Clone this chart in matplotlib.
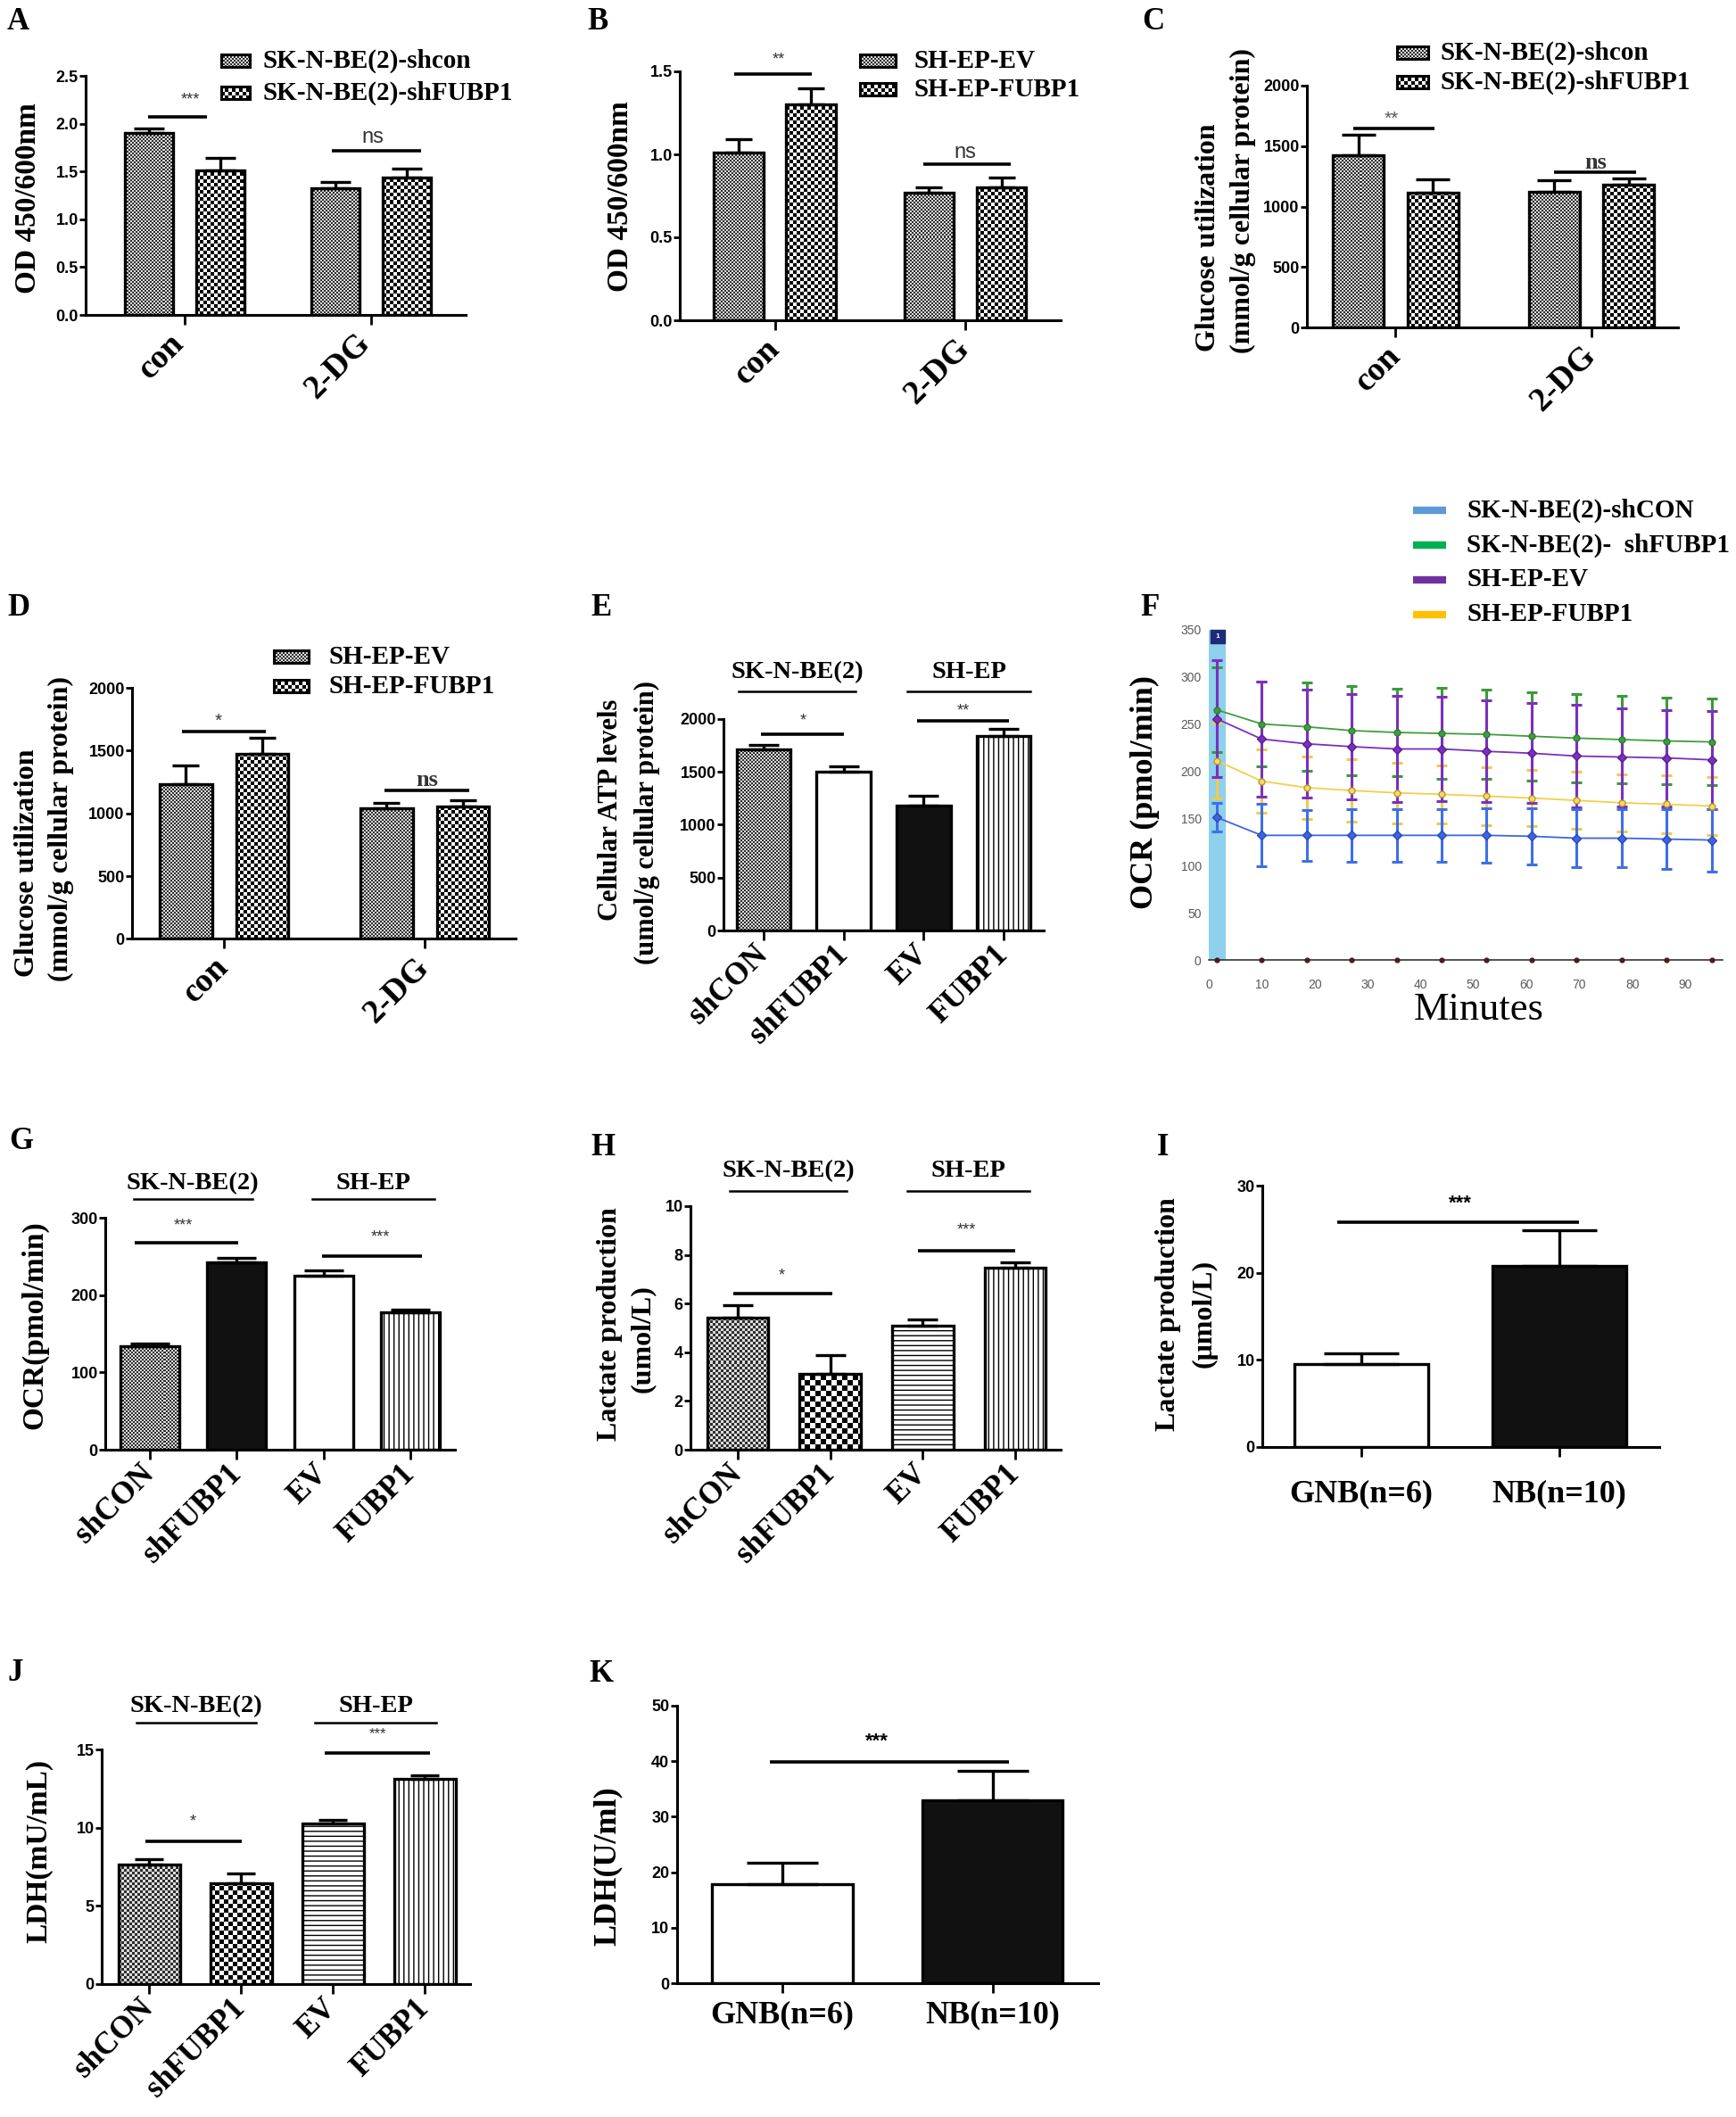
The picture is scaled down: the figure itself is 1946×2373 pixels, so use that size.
import numpy as np
import matplotlib
matplotlib.use('Agg')
import matplotlib.pyplot as plt
from matplotlib.colors import ListedColormap
from matplotlib.patches import Rectangle
from matplotlib.lines import Line2D
from matplotlib.transforms import ScaledTranslation

W, H = 1946, 2373
SERIF = 'Liberation Serif'
SANS = 'Liberation Sans'
plt.rcParams['hatch.linewidth'] = 1.0

# ---------------- data ----------------
groups = ['con', '2-DG']
a_shcon = [1.90, 1.32]
a_shcon_err = [0.05, 0.07]
a_shfubp1 = [1.51, 1.44]
a_shfubp1_err = [0.13, 0.09]

b_ev = [1.01, 0.77]
b_ev_err = [0.08, 0.03]
b_fubp1 = [1.30, 0.80]
b_fubp1_err = [0.10, 0.06]

c_shcon = [1423, 1121]
c_shcon_err = [170, 100]
c_shfubp1 = [1114, 1178]
c_shfubp1_err = [111, 51]

d_ev = [1236, 1041]
d_ev_err = [147, 45]
d_fubp1 = [1477, 1058]
d_fubp1_err = [122, 46]

cells = ['shCON', 'shFUBP1', 'EV', 'FUBP1']
e_atp = [1713, 1502, 1185, 1840]
e_atp_err = [46, 51, 91, 63]

f_time = [1.5, 10, 18.5, 27, 35.5, 44, 52.5, 61, 69.5, 78, 86.5, 95]
f_shcon = [151, 132, 132, 132, 132, 132, 132, 131, 129, 129, 128, 127]
f_shcon_err = [15, 33, 27, 28, 28, 28, 29, 30, 31, 31, 32, 33]
f_shfubp1 = [265, 250, 247, 243, 241, 240, 239, 237, 235, 233.5, 232, 231]
f_shfubp1_err = [45, 45, 47, 47, 46, 48, 47, 47, 47, 46, 46, 46]
f_ev = [255.5, 234, 229, 226, 223.5, 223.5, 221, 219, 216, 215, 214, 212]
f_ev_err = [62, 61, 57, 56, 56, 55, 54, 53, 54, 52, 51, 52]
f_fubp1 = [211, 189.5, 182.5, 179.5, 177, 175.5, 173.5, 171.5, 169, 166.5, 165, 163]
f_fubp1_err = [40, 34, 33, 33, 32, 31, 31, 30, 30, 30, 31, 31]
f_names = ['SK-N-BE(2)-shCON', 'SK-N-BE(2)-  shFUBP1', 'SH-EP-EV', 'SH-EP-FUBP1']

g_ocr = [133.5, 242, 225, 177.5]
g_ocr_err = [4, 6, 7, 4]

h_lac = [5.43, 3.11, 5.09, 7.48]
h_lac_err = [0.51, 0.77, 0.24, 0.23]

tumours = ['GNB(n=6)', 'NB(n=10)']
i_lac = [9.5, 20.8]
i_lac_err = [1.27, 4.07]

j_ldh = [7.67, 6.44, 10.28, 13.09]
j_ldh_err = [0.33, 0.64, 0.24, 0.28]

k_ldh = [17.85, 33.0]
k_ldh_err = [3.9, 5.3]

# ---------------- helpers ----------------
fig = plt.figure(figsize=(W / 100, H / 100), dpi=100)


def add_ax(x0, y0, x1, y1):
    # box in picture pixels, y measured from the top
    return fig.add_axes([x0 / W, 1 - y1 / H, (x1 - x0) / W, (y1 - y0) / H])


def setup(ax, xlim, ylim, yticks, fmt, tick_pos, tick_labels, rot=True, xfs=25,
          xpad=8, dx=0):
    ax.set_xlim(*xlim)
    ax.set_ylim(*ylim)
    for s in ['top', 'right']:
        ax.spines[s].set_visible(False)
    for s in ['left', 'bottom']:
        ax.spines[s].set_linewidth(2.2)
    ax.set_yticks(yticks)
    ax.set_yticklabels([fmt.format(t) for t in yticks], fontfamily=SANS,
                       fontweight='bold', fontsize=13)
    ax.tick_params(axis='y', direction='out', width=2, length=5, pad=1)
    ax.tick_params(axis='x', direction='out', width=2, length=8, pad=xpad)
    ax.set_xticks(tick_pos)
    if rot:
        labs = ax.set_xticklabels(tick_labels, rotation=45, ha='right', va='center',
                                  rotation_mode='anchor', fontfamily=SERIF,
                                  fontweight='bold', fontsize=xfs)
        if dx:
            for lab in labs:
                lab.set_transform(lab.get_transform() +
                                  ScaledTranslation(dx / 100, 0, fig.dpi_scale_trans))
    else:
        ax.set_xticklabels(tick_labels, fontfamily=SERIF, fontweight='bold',
                           fontsize=xfs)


def checker(ax, patch, cell, c1, c2):
    x0, y0 = patch.get_x(), patch.get_y()
    w, h = patch.get_width(), patch.get_height()
    p0 = ax.transData.transform((x0, y0))
    p1 = ax.transData.transform((x0 + w, y0 + h))
    pw, ph = abs(p1[0] - p0[0]), abs(p1[1] - p0[1])
    nx = int(np.ceil(pw / cell)) + 1
    ny = int(np.ceil(ph / cell)) + 1
    img = np.add.outer(np.arange(ny), np.arange(nx)) % 2
    ex = x0 + w * nx * cell / pw
    ey = y0 + h * ny * cell / ph
    im = ax.imshow(img, extent=(x0, ex, y0, ey), origin='lower',
                   cmap=ListedColormap([c1, c2]), interpolation='nearest',
                   aspect='auto', zorder=2.2)
    im.set_clip_path(patch)


FINE = ('#2e2e2e', '#dcdcdc')
COARSE = ('#ffffff', '#000000')


def bars(ax, x, vals, errs, width, style, capsize):
    # style: ('fine', cell) ('coarse', cell) ('white',) ('black',) ('vline',) ('hline',)
    for xi, v, e, st in zip(x, vals, errs, style):
        kind = st[0]
        if kind in ('fine', 'coarse'):
            b = ax.bar(xi, v, width, facecolor='white', linewidth=0, zorder=2)[0]
            cols = FINE if kind == 'fine' else COARSE
            checker(ax, b, st[1], *cols)
        elif kind == 'vline':
            ax.bar(xi, v, width, facecolor='white', edgecolor='black', linewidth=0,
                   hatch='|||', zorder=2)
        elif kind == 'hline':
            ax.bar(xi, v, width, facecolor='white', edgecolor='black', linewidth=0,
                   hatch='---', zorder=2)
        else:
            fc = 'white' if kind == 'white' else '#111111'
            ax.bar(xi, v, width, facecolor=fc, linewidth=0, zorder=2)
        ax.bar(xi, v, width, facecolor='none', edgecolor='black', linewidth=2.4, zorder=3)
        ax.errorbar(xi, v, yerr=[[0], [e]], fmt='none', ecolor='black',
                    elinewidth=2.4, capsize=capsize, capthick=2.4, zorder=4)


def sig(ax, x0, x1, y, text, ty, tx, fs=13, family=SANS, weight='normal', color='#333333'):
    ax.plot([x0, x1], [y, y], color='black', lw=2.6, solid_capstyle='butt',
            clip_on=False, zorder=5)
    ax.text(tx, ty, text, ha='center', va='center', fontsize=fs, family=family,
            fontweight=weight, color=color, clip_on=False)


def group_label(ax, x0, x1, y, text, ty):
    ax.plot([x0, x1], [y, y], color='black', lw=1.8, clip_on=False, zorder=5)
    ax.text((x0 + x1) / 2, ty, text, ha='center', va='center', fontsize=20.5,
            family=SERIF, fontweight='bold', clip_on=False)


def ylabel(x, y, text, fs=23):
    fig.text(x / W, 1 - y / H, text, rotation=90, ha='center', va='center',
             fontsize=fs, family=SERIF, fontweight='bold')


def panel_letter(x, y, letter):
    fig.text(x / W, 1 - y / H, letter, ha='left', va='baseline', fontsize=25,
             family=SERIF, fontweight='bold')


def legend_patch(x0, x1, yc, kind, cell, text, tx, fs=21):
    lax = add_ax(x0, yc - 7, x1, yc + 7)
    lax.set_xlim(0, 1)
    lax.set_ylim(0, 1)
    lax.set_xticks([])
    lax.set_yticks([])
    r = Rectangle((0, 0), 1, 1, facecolor='white', linewidth=0)
    lax.add_patch(r)
    checker(lax, r, cell, *(FINE if kind == 'fine' else COARSE))
    for s in lax.spines.values():
        s.set_linewidth(2.2)
    fig.text(tx / W, 1 - yc / H, text, ha='left', va='center', fontsize=fs,
             family=SERIF, fontweight='bold')


# ---------------- A ----------------
xg = np.arange(len(groups))
off, bw = 0.19, 0.26
ax = add_ax(96, 85, 522, 353)
setup(ax, (-0.531, 1.507), (0, 2.5), [0, 0.5, 1.0, 1.5, 2.0, 2.5], '{:.1f}',
      xg, groups, xfs=27, xpad=11, dx=-6)
bars(ax, xg - off, a_shcon, a_shcon_err, bw, [('fine', 2)] * 2, 12)
bars(ax, xg + off, a_shfubp1, a_shfubp1_err, bw, [('coarse', 4)] * 2, 12)
sig(ax, -0.196, 0.12, 2.07, '***', 2.25, 0.03)
sig(ax, 0.79, 1.27, 1.72, 'ns', 1.86, 1.01, fs=17)
legend_patch(248, 280, 68, 'fine', 2, 'SK-N-BE(2)-shcon', 295)
legend_patch(248, 280, 104, 'coarse', 4, 'SK-N-BE(2)-shFUBP1', 295)
ylabel(32, 222, 'OD 450/600nm', fs=24)
panel_letter(8, 33, 'A')

# ---------------- B ----------------
ax = add_ax(762, 80, 1189, 359)
setup(ax, (-0.499, 1.501), (0, 1.5), [0, 0.5, 1.0, 1.5], '{:.1f}', xg, groups,
      xfs=27, xpad=11)
bars(ax, xg - off, b_ev, b_ev_err, bw, [('fine', 2)] * 2, 11)
bars(ax, xg + off, b_fubp1, b_fubp1_err, bw, [('coarse', 4)] * 2, 11)
sig(ax, -0.213, 0.194, 1.486, '**', 1.57, 0.02)
sig(ax, 0.78, 1.24, 0.939, 'ns', 1.01, 1.0, fs=17)
legend_patch(964, 1004, 68, 'fine', 2, 'SH-EP-EV', 1025)
legend_patch(964, 1004, 100, 'coarse', 4, 'SH-EP-FUBP1', 1025)
ylabel(695, 220, 'OD 450/600nm', fs=24)
panel_letter(658, 33, 'B')

# ---------------- C ----------------
ax = add_ax(1465, 96, 1881, 367)
setup(ax, (-0.453, 1.442), (0, 2000), [0, 500, 1000, 1500, 2000], '{:d}', xg, groups,
      xfs=27, xpad=11)
bars(ax, xg - off, c_shcon, c_shcon_err, bw, [('fine', 2)] * 2, 14)
bars(ax, xg + off, c_shfubp1, c_shfubp1_err, bw, [('coarse', 4)] * 2, 14)
sig(ax, -0.215, 0.198, 1644, '**', 1727, -0.02, fs=15, color='#555555')
sig(ax, 0.81, 1.23, 1286, 'ns', 1365, 1.02, fs=19, family=SERIF, weight='bold')
legend_patch(1566, 1601, 59, 'fine', 2, 'SK-N-BE(2)-shcon', 1615)
legend_patch(1566, 1601, 92, 'coarse', 4, 'SK-N-BE(2)-shFUBP1', 1615)
ylabel(1354, 266, 'Glucose utilization')
ylabel(1393, 225, '(mmol/g cellular protein)')
panel_letter(1280, 33, 'C')

# ---------------- D ----------------
ax = add_ax(148, 771, 578, 1052.5)
setup(ax, (-0.458, 1.453), (0, 2000), [0, 500, 1000, 1500, 2000], '{:d}', xg, groups,
      xfs=27, xpad=11)
bars(ax, xg - off, d_ev, d_ev_err, bw, [('fine', 2)] * 2, 10.5)
bars(ax, xg + off, d_fubp1, d_fubp1_err, bw, [('coarse', 4)] * 2, 10.5)
sig(ax, -0.21, 0.21, 1650, '*', 1737, -0.03, fs=15)
sig(ax, 0.8, 1.22, 1185, 'ns', 1262, 1.01, fs=19, family=SERIF, weight='bold')
legend_patch(307, 346, 736, 'fine', 2, 'SH-EP-EV', 369)
legend_patch(307, 346, 769, 'coarse', 4, 'SH-EP-FUBP1', 369)
ylabel(31, 967, 'Glucose utilization')
ylabel(68, 929, '(mmol/g cellular protein)')
panel_letter(8, 690, 'D')

# ---------------- E ----------------
xc = np.arange(len(cells))
ax = add_ax(811, 806, 1170, 1043)
setup(ax, (-0.5, 3.5), (0, 2000), [0, 500, 1000, 1500, 2000], '{:d}', xc, cells)
bars(ax, xc, e_atp, e_atp_err, 0.675,
     [('fine', 2), ('white',), ('black',), ('vline',)], 12.5)
sig(ax, -0.03, 1.0, 1857, '*', 1983, 0.49, fs=13)
sig(ax, 1.92, 3.06, 1983, '**', 2076, 2.49, fs=13)
group_label(ax, -0.31, 1.15, 2262, 'SK-N-BE(2)', 2439)
group_label(ax, 1.80, 3.33, 2262, 'SH-EP', 2439)
ylabel(685, 908, 'Cellular ATP levels', fs=22)
ylabel(725, 922, '(umol/g cellular protein)', fs=22)
panel_letter(662, 690, 'E')

# ---------------- F ----------------
ax = add_ax(1355, 703.6, 1930.5, 1076)
ax.set_xlim(0, 97)
ax.set_ylim(0, 352)
for s in ['top', 'right', 'left']:
    ax.spines[s].set_visible(False)
ax.spines['bottom'].set_color('#333333')
ax.spines['bottom'].set_linewidth(1.2)
ax.set_yticks(np.arange(0, 351, 50))
ax.set_xticks(np.arange(0, 91, 10))
ax.tick_params(length=0, labelsize=10, labelcolor='#595959', pad=6)
ax.tick_params(axis='x', pad=15)
for lab in ax.get_xticklabels() + ax.get_yticklabels():
    lab.set_family(SANS)
ax.axvspan(0, 3.2, ymax=350 / 352, color='#8fd0ec', zorder=0, lw=0)
ax.add_patch(Rectangle((0.3, 336), 2.7, 14, color='#1c2a78', zorder=1))
ax.text(1.65, 343, '1', color='white', fontsize=6, fontweight='bold',
        ha='center', va='center', family=SANS)
series = [
    (f_shfubp1, f_shfubp1_err, '#3f9d3f', '#3a9a3a', 'o', '#3f9d3f', '#2f7f2f'),
    (f_fubp1, f_fubp1_err, '#f3cf4a', '#f2c94c', 'o', '#f6d96a', '#b99a20'),
    (f_ev, f_ev_err, '#7a2fc0', '#7b2fbe', 'D', '#7a2fc0', '#5a1f90'),
    (f_shcon, f_shcon_err, '#3e64e4', '#3f6fe6', 'D', '#3e64e4', '#2a4ab0'),
]
for vals, err, lc, ec, mk, mfc, mec in series:
    ax.errorbar(f_time, vals, yerr=err, color=lc, ecolor=ec, lw=1.3, marker=mk,
                ms=5, mfc=mfc, mec=mec, elinewidth=2.2, capsize=4.5, capthick=2.2,
                zorder=3)
ax.plot(f_time, np.zeros(len(f_time)), 'o', ms=3.5, color='#4a1c1c', clip_on=False,
        zorder=4)
legend_cols = ['#5b9bd5', '#00b050', '#7030a0', '#ffc000']
for name, col, yc in zip(f_names, legend_cols, [572, 611, 650, 689]):
    fig.add_artist(Line2D([1584 / W, 1621 / W], [1 - yc / H, 1 - yc / H], lw=6,
                          color=col, solid_capstyle='butt'))
    fig.text(1644 / W, 1 - yc / H, name, ha='left', va='center', fontsize=21,
             family=SERIF, fontweight='bold')
fig.text(1658 / W, 1 - 1132 / H, 'Minutes', ha='center', va='center',
         fontsize=32, family=SERIF)
ylabel(1283, 888, 'OCR (pmol/min)', fs=26)
panel_letter(1278, 690, 'F')

# ---------------- G ----------------
ax = add_ax(118, 1365, 510, 1625)
setup(ax, (-0.51, 3.51), (0, 300), [0, 100, 200, 300], '{:d}', xc, cells)
bars(ax, xc, g_ocr, g_ocr_err, 0.68,
     [('fine', 2), ('black',), ('white',), ('vline',)], 16)
sig(ax, -0.17, 1.02, 268, '***', 290, 0.39, fs=13)
sig(ax, 1.98, 3.13, 250, '***', 275, 2.65, fs=13)
group_label(ax, -0.185, 1.18, 324, 'SK-N-BE(2)', 344)
group_label(ax, 1.87, 3.275, 324, 'SH-EP', 344)
ylabel(39, 1485, 'OCR(pmol/min)', fs=24)
panel_letter(10, 1288, 'G')

# ---------------- H ----------------
ax = add_ax(774, 1352, 1189, 1625)
setup(ax, (-0.51, 3.49), (0, 10), [0, 2, 4, 6, 8, 10], '{:d}', xc, cells)
bars(ax, xc, h_lac, h_lac_err, 0.66,
     [('fine', 3), ('coarse', 6), ('hline',), ('vline',)], 12.5)
sig(ax, -0.05, 1.02, 6.40, '*', 7.13, 0.48, fs=13)
sig(ax, 1.95, 3.0, 8.17, '***', 9.02, 2.47, fs=13)
group_label(ax, -0.09, 1.18, 10.62, 'SK-N-BE(2)', 11.43)
group_label(ax, 1.83, 3.15, 10.62, 'SH-EP', 11.43)
ylabel(683, 1484, 'Lactate production', fs=23)
ylabel(720, 1501, '(umol/L)', fs=23)
panel_letter(662, 1295, 'H')

# ---------------- I ----------------
xt = np.arange(len(tumours))
ax = add_ax(1415, 1329, 1860, 1622)
setup(ax, (-0.5, 1.505), (0, 30), [0, 10, 20, 30], '{:d}', xt, tumours, rot=False, xfs=26)
ax.tick_params(axis='x', pad=18)
bars(ax, xt, i_lac, i_lac_err, 0.675, [('white',), ('black',)], 30)
sig(ax, -0.12, 1.10, 25.8, '***', 27.9, 0.5, fs=16, weight='bold', color='black')
ylabel(1310, 1473, 'Lactate production', fs=23)
ylabel(1350, 1472, '(\u03bcmol/L)', fs=23)
panel_letter(1297, 1295, 'I')

# ---------------- J ----------------
ax = add_ax(114, 1961, 526.5, 2224)
setup(ax, (-0.515, 3.49), (0, 15), [0, 5, 10, 15], '{:d}', xc, cells)
bars(ax, xc, j_ldh, j_ldh_err, 0.67,
     [('fine', 3), ('coarse', 5), ('hline',), ('vline',)], 11.5)
sig(ax, -0.04, 1.01, 9.12, '*', 10.38, 0.48, fs=13)
sig(ax, 1.91, 3.06, 14.8, '***', 16.0, 2.49, fs=12)
group_label(ax, -0.14, 1.16, 16.71, 'SK-N-BE(2)', 17.74)
group_label(ax, 1.81, 3.13, 16.71, 'SH-EP', 17.74)
ylabel(43.5, 2075, 'LDH(mU/mL)', fs=24)
panel_letter(8, 1884, 'J')

# ---------------- K ----------------
ax = add_ax(758.6, 1912, 1231, 2223)
setup(ax, (-0.503, 1.503), (0, 50), [0, 10, 20, 30, 40, 50], '{:d}', xt, tumours,
      rot=False, xfs=26)
ax.tick_params(axis='x', pad=6)
bars(ax, xt, k_ldh, k_ldh_err, 0.67, [('white',), ('black',)], 29)
sig(ax, -0.06, 1.08, 39.9, '***', 43.5, 0.45, fs=16, weight='bold', color='black')
ylabel(681.5, 2092, 'LDH(U/ml)', fs=26)
panel_letter(660, 1885, 'K')

fig.savefig('out.png', dpi=100)
